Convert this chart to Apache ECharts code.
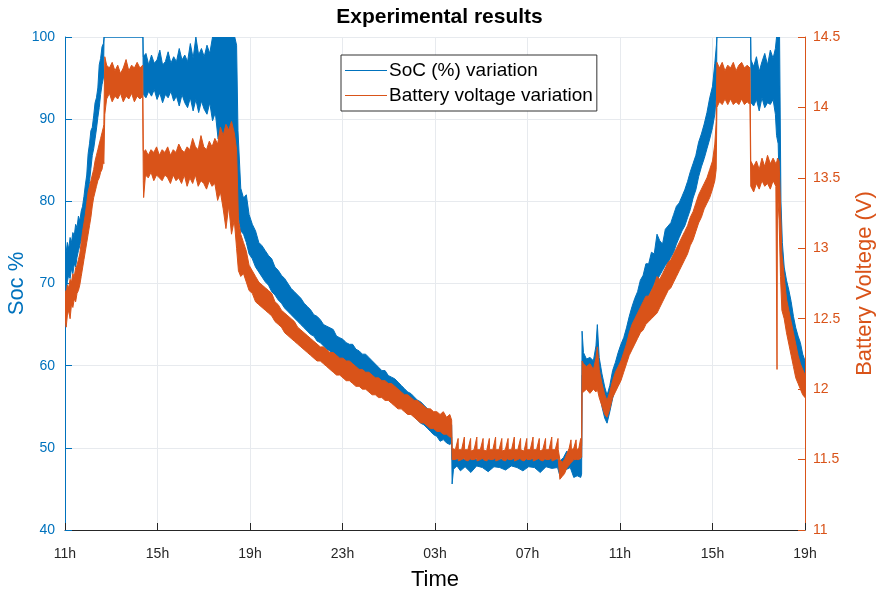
<!DOCTYPE html>
<html>
<head>
<meta charset="utf-8">
<title>Experimental results</title>
<script src="https://cdn.jsdelivr.net/npm/echarts@6/dist/echarts.min.js"></script>
<style>
  html, body { margin: 0; padding: 0; background: #fff; }
  #chart { width: 879px; height: 593px; }
</style>
</head>
<body>
<div id="chart"></div>
<script>
/* time axis: hours since 11h of day 1 */
var hourLabels = ['11h', '15h', '19h', '23h', '03h', '07h', '11h', '15h', '19h'];

/* SoC (%) band: time, lower and upper edge of the noisy trace */
var socTime = [
  0.00, 0.05, 0.10, 0.16, 0.22, 0.28, 0.34, 0.40, 0.46, 0.52, 0.58, 0.64, 0.70, 0.76, 0.82, 0.88,
  0.94, 1.00, 1.06, 1.12, 1.18, 1.24, 1.30, 1.36, 1.42, 1.48, 1.54, 1.60, 1.66, 1.69,
  3.37, 3.385, 3.50, 3.62, 3.74, 3.86, 3.98, 4.10, 4.22, 4.34, 4.46, 4.58, 4.70, 4.82, 4.94,
  5.06, 5.18, 5.30, 5.42, 5.54, 5.66, 5.78, 5.90, 6.02, 6.14, 6.26, 6.38, 6.50, 6.62, 6.74,
  6.86, 6.98, 7.10, 7.22, 7.34, 7.42, 7.48, 7.60, 7.72, 7.84, 7.96, 8.10, 8.24, 8.38, 8.52,
  8.66, 8.80, 8.94, 9.08, 9.22, 9.36, 9.50, 9.64, 9.78, 9.92, 10.06, 10.20, 10.34, 10.48,
  10.62, 10.76, 10.90, 11.04, 11.18, 11.32, 11.46, 11.60, 11.74, 11.88, 12.02, 12.16, 12.30,
  12.44, 12.58, 12.72, 12.86, 13.00, 13.14, 13.28, 13.42, 13.56, 13.70, 13.84, 13.98, 14.12,
  14.26, 14.40, 14.54, 14.68, 14.82, 14.96, 15.10, 15.24, 15.38, 15.52, 15.66, 15.80, 15.94,
  16.08, 16.22, 16.36, 16.50, 16.64, 16.72, 16.74, 16.80, 16.95, 17.10, 17.30, 17.55, 17.80,
  18.05, 18.30, 18.55, 18.80, 19.05, 19.30, 19.55, 19.80, 20.05, 20.30, 20.55, 20.80, 21.05,
  21.30, 21.40, 21.55, 21.70, 21.85, 22.00, 22.15, 22.30, 22.34, 22.36, 22.42, 22.55, 22.70,
  22.85, 22.96, 23.02, 23.10, 23.22, 23.34, 23.44, 23.56, 23.68, 23.80, 23.92, 24.04, 24.16,
  24.28, 24.40, 24.52, 24.64, 24.76, 24.88, 25.00, 25.12, 25.24, 25.36, 25.48, 25.60, 25.72,
  25.84, 25.96, 26.08, 26.20, 26.32, 26.44, 26.56, 26.68, 26.80, 26.92, 27.04, 27.16, 27.28,
  27.40, 27.52, 27.64, 27.76, 27.88, 28.00, 28.10, 28.17, 28.19, 29.65, 29.665, 29.78, 29.90,
  30.02, 30.14, 30.26, 30.38, 30.50, 30.62, 30.72, 30.77, 30.84, 30.90, 30.96, 31.02, 31.10,
  31.20, 31.30, 31.40, 31.50, 31.60, 31.70, 31.80, 31.90, 32.00
];
var socLow = [
  70.5, 68.8, 70.2, 71.0, 70.6, 71.8, 71.2, 72.4, 72.0, 73.2, 74.0, 74.6, 75.4, 76.0, 76.2, 77.8,
  79.0, 80.6, 82.4, 84.0, 85.6, 86.4, 87.6, 88.8, 90.2, 91.4, 93.0, 94.2, 95.0, 100,
  100, 93.0, 92.6, 93.4, 92.8, 93.6, 92.4, 93.2, 92.0, 93.0, 92.6, 93.4, 92.2, 92.8, 91.6,
  93.0, 92.0, 91.4, 92.6, 91.0, 92.4, 90.8, 92.2, 91.2, 90.6, 92.0, 89.8, 90.8, 87.6, 88.6,
  86.8, 88.4, 85.6, 86.8, 84.6, 82.0, 78.6, 76.4, 76.0, 75.0, 73.6, 73.0, 72.0, 71.4, 70.8,
  70.2, 69.8, 69.0, 68.6, 68.0, 67.6, 67.0, 66.6, 66.2, 65.8, 65.4, 65.0, 64.6, 64.2,
  63.8, 63.6, 63.0, 62.8, 62.4, 62.0, 61.8, 61.4, 61.0, 60.8, 60.4, 60.2, 59.8,
  59.6, 59.4, 59.0, 58.8, 58.6, 58.4, 58.0, 57.6, 57.4, 57.0, 56.8, 56.6, 56.2,
  55.8, 55.4, 55.0, 54.8, 54.4, 54.2, 53.8, 53.4, 53.0, 52.8, 52.4, 52.0, 51.6,
  51.4, 50.8, 51.0, 50.6, 50.4, 50.6, 45.6, 47.4, 47.8, 47.2, 47.7, 47.0, 47.8,
  47.6, 47.1, 47.7, 47.6, 47.3, 47.8, 47.6, 47.2, 47.7, 47.6, 47.0, 47.7, 47.5,
  47.6, 46.6, 47.2, 47.4, 47.6, 46.4, 46.6, 46.4, 46.8, 58.8, 58.6, 59.0, 58.4,
  59.2, 58.0, 58.6, 57.0, 55.0, 53.6, 53.0, 54.4, 56.0, 57.2, 58.0, 59.0, 60.2,
  61.2, 62.6, 63.8, 64.6, 65.8, 66.4, 67.4, 67.8, 68.6, 69.2, 70.0, 70.4, 71.0,
  71.6, 72.2, 72.6, 73.2, 73.8, 74.8, 75.6, 76.4, 77.0, 78.0, 79.0, 80.4, 81.4,
  83.0, 84.2, 85.2, 86.4, 87.6, 89.0, 90.6, 93.0, 100, 100, 92.0, 91.6, 92.4,
  91.0, 92.6, 91.4, 92.0, 91.8, 92.4, 90.6, 88.0, 87.0, 80.0, 73.0, 69.0, 67.4,
  66.0, 65.0, 63.0, 62.0, 60.6, 60.2, 59.4, 58.2, 58.0
];
var socHigh = [
  74.5, 73.8, 75.0, 74.2, 75.6, 75.0, 76.2, 75.8, 77.2, 76.8, 78.2, 77.6, 78.8, 79.4, 80.6, 82.0,
  83.2, 85.8, 87.0, 88.6, 89.0, 90.4, 92.0, 92.6, 93.8, 96.6, 97.4, 98.8, 99.2, 100,
  100, 97.6, 98.0, 96.6, 97.8, 96.8, 97.2, 98.4, 96.6, 97.0, 98.2, 96.8, 97.6, 97.0, 98.6,
  97.2, 97.8, 97.0, 99.2, 97.4, 100, 97.8, 98.6, 97.6, 99.0, 98.0, 100, 100, 100, 100,
  100, 100, 100, 100, 100, 99.0, 88.6, 81.6, 80.4, 80.8, 78.4, 77.2, 76.4, 75.0, 74.6,
  74.0, 73.4, 73.0, 72.0, 71.6, 71.0, 70.6, 70.0, 69.4, 69.0, 68.6, 68.2, 67.6, 67.2,
  66.8, 66.2, 66.0, 65.6, 65.0, 64.8, 64.6, 64.4, 63.6, 63.4, 63.2, 62.8, 62.6,
  62.6, 62.0, 61.8, 61.4, 61.4, 61.0, 60.6, 60.2, 59.8, 59.4, 59.4, 58.8, 58.6,
  58.4, 58.0, 57.6, 57.2, 56.8, 56.6, 56.2, 55.8, 55.6, 55.2, 54.8, 54.6, 54.0,
  53.8, 53.6, 53.2, 53.6, 53.0, 52.8, 48.6, 48.8, 48.6, 48.7, 48.6, 48.8, 48.6,
  48.7, 48.6, 48.9, 48.6, 48.7, 48.6, 48.8, 48.6, 48.7, 48.6, 48.8, 48.6, 48.7,
  48.6, 48.4, 48.8, 49.6, 49.0, 48.8, 48.6, 48.6, 48.8, 64.2, 61.6, 60.8, 61.0,
  60.6, 62.4, 65.0, 61.0, 59.0, 57.4, 56.4, 57.6, 59.4, 60.4, 61.6, 62.6, 63.4,
  64.6, 66.0, 67.2, 68.2, 69.0, 70.4, 71.0, 72.4, 72.4, 73.8, 73.6, 76.0, 75.2,
  74.8, 76.6, 77.0, 77.4, 78.4, 79.4, 79.8, 80.6, 81.4, 82.4, 83.6, 84.6, 85.6,
  87.2, 88.2, 89.4, 90.8, 92.6, 94.0, 96.8, 99.0, 100, 100, 97.2, 96.4, 97.6,
  95.8, 97.0, 98.0, 96.6, 98.4, 97.4, 98.6, 100, 100, 100, 80.0, 75.0, 72.0,
  70.4, 69.2, 67.8, 66.0, 64.6, 63.6, 62.8, 61.4, 60.6
];

/* Battery voltage (V) band: time, lower and upper edge */
var voltTime = [
  0.00, 0.05, 0.10, 0.16, 0.22, 0.28, 0.34, 0.40, 0.46, 0.52, 0.58, 0.64, 0.70, 0.76, 0.82, 0.88,
  0.94, 1.00, 1.06, 1.12, 1.18, 1.24, 1.30, 1.36, 1.42, 1.48, 1.54, 1.60, 1.66, 1.68, 1.72, 1.80,
  1.92, 2.04, 2.16, 2.28, 2.40, 2.52, 2.64, 2.76, 2.88, 3.00, 3.12, 3.24, 3.36, 3.385, 3.40,
  3.48, 3.60, 3.72, 3.84, 3.96, 4.08, 4.20, 4.32, 4.44, 4.56, 4.68, 4.80, 4.92, 5.04, 5.16,
  5.28, 5.40, 5.52, 5.64, 5.76, 5.88, 6.00, 6.12, 6.24, 6.36, 6.48, 6.60, 6.72, 6.84, 6.96,
  7.08, 7.20, 7.32, 7.42, 7.50, 7.60, 7.72, 7.84, 7.96, 8.10, 8.24, 8.38, 8.52, 8.66, 8.80,
  8.94, 9.08, 9.22, 9.36, 9.50, 9.64, 9.78, 9.92, 10.06, 10.20, 10.34, 10.48, 10.62, 10.76,
  10.90, 11.04, 11.18, 11.32, 11.46, 11.60, 11.74, 11.88, 12.02, 12.16, 12.30, 12.44, 12.58,
  12.72, 12.86, 13.00, 13.14, 13.28, 13.42, 13.56, 13.70, 13.84, 13.98, 14.12, 14.26, 14.40,
  14.54, 14.68, 14.82, 14.96, 15.10, 15.24, 15.38, 15.52, 15.66, 15.80, 15.94, 16.08, 16.22,
  16.36, 16.50, 16.64, 16.72, 16.74,
  16.88, 17.00, 17.01, 17.15, 17.27, 17.28, 17.42, 17.54, 17.55, 17.69, 17.81, 17.82,
  17.96, 18.08, 18.09, 18.23, 18.35, 18.36, 18.50, 18.62, 18.63, 18.77, 18.89, 18.90,
  19.04, 19.16, 19.17, 19.31, 19.43, 19.44, 19.58, 19.70, 19.71, 19.85, 19.97, 19.98,
  20.12, 20.24, 20.25, 20.39, 20.51, 20.52, 20.66, 20.78, 20.79, 20.93, 21.05, 21.06,
  21.20, 21.32, 21.33,
  21.40, 21.50, 21.60, 21.70, 21.80, 21.88, 21.90, 22.00, 22.10, 22.12, 22.22, 22.30, 22.34,
  22.36, 22.42, 22.55, 22.70, 22.85, 22.96, 23.02, 23.10, 23.22, 23.34, 23.44, 23.56, 23.68,
  23.80, 23.92, 24.04, 24.16, 24.28, 24.40, 24.52, 24.64, 24.76, 24.88, 25.00, 25.12, 25.24,
  25.36, 25.48, 25.60, 25.72, 25.84, 25.96, 26.08, 26.20, 26.32, 26.44, 26.56, 26.68, 26.80,
  26.92, 27.04, 27.16, 27.28, 27.40, 27.52, 27.64, 27.76, 27.88, 28.00, 28.10, 28.16, 28.19,
  28.30, 28.42, 28.54, 28.66, 28.78, 28.90, 29.02, 29.14, 29.26, 29.38, 29.50, 29.62, 29.655,
  29.78, 29.90, 30.02, 30.14, 30.26, 30.38, 30.50, 30.62, 30.74, 30.79, 30.81, 30.88, 30.94,
  31.00, 31.10, 31.20, 31.30, 31.40, 31.50, 31.60, 31.70, 31.80, 31.90, 32.00
];
var voltLow = [
  12.50, 12.44, 12.52, 12.56, 12.50, 12.60, 12.58, 12.64, 12.62, 12.68, 12.70, 12.74, 12.80, 12.86, 12.92, 12.98,
  13.04, 13.10, 13.16, 13.22, 13.30, 13.36, 13.40, 13.44, 13.48, 13.50, 13.54, 13.56, 13.62, 13.60, 13.95, 14.06,
  14.10, 14.04, 14.08, 14.06, 14.10, 14.04, 14.08, 14.06, 14.10, 14.04, 14.08, 14.06, 14.08, 13.48, 13.36,
  13.52, 13.50, 13.54, 13.48, 13.52, 13.50, 13.48, 13.52, 13.50, 13.46, 13.52, 13.48, 13.50, 13.46, 13.52,
  13.44, 13.50, 13.46, 13.52, 13.44, 13.48, 13.46, 13.42, 13.48, 13.44, 13.46, 13.34, 13.40, 13.28, 13.14,
  13.30, 13.10, 13.20, 13.00, 12.84, 12.80, 12.82, 12.76, 12.70, 12.68, 12.62, 12.60, 12.58, 12.56, 12.54,
  12.52, 12.48, 12.46, 12.44, 12.40, 12.38, 12.36, 12.34, 12.32, 12.30, 12.28, 12.26, 12.24, 12.22,
  12.20, 12.20, 12.18, 12.16, 12.14, 12.12, 12.10, 12.10, 12.08, 12.06, 12.06, 12.04, 12.02,
  12.02, 12.00, 12.00, 11.98, 11.96, 11.96, 11.94, 11.94, 11.92, 11.92, 11.90, 11.88, 11.86,
  11.86, 11.84, 11.82, 11.82, 11.80, 11.78, 11.76, 11.76, 11.74, 11.72, 11.72, 11.70, 11.70,
  11.68, 11.68, 11.66, 11.66, 11.50,
  11.50, 11.51, 11.49, 11.50, 11.51, 11.50, 11.49, 11.51, 11.50, 11.50, 11.51, 11.49,
  11.50, 11.51, 11.50, 11.49, 11.51, 11.50, 11.50, 11.51, 11.49, 11.50, 11.51, 11.50,
  11.49, 11.51, 11.50, 11.50, 11.51, 11.49, 11.50, 11.51, 11.50, 11.49, 11.51, 11.50,
  11.50, 11.51, 11.49, 11.50, 11.51, 11.50, 11.49, 11.51, 11.50, 11.50, 11.51, 11.49,
  11.50, 11.51, 11.50,
  11.36, 11.38, 11.40, 11.44, 11.46, 11.48, 11.48, 11.50, 11.50, 11.50, 11.50, 11.51, 11.52,
  11.98, 11.98, 12.00, 11.97, 12.00, 11.98, 12.00, 11.94, 11.88, 11.82, 11.80, 11.86, 11.94,
  11.98, 12.02, 12.06, 12.12, 12.18, 12.24, 12.28, 12.32, 12.36, 12.40, 12.42, 12.46, 12.48,
  12.50, 12.52, 12.54, 12.58, 12.62, 12.66, 12.70, 12.72, 12.76, 12.80, 12.84, 12.88, 12.92,
  12.96, 13.02, 13.06, 13.12, 13.18, 13.22, 13.28, 13.32, 13.36, 13.42, 13.48, 13.56, 14.00,
  14.04, 14.02, 14.06, 14.02, 14.06, 14.02, 14.04, 14.02, 14.06, 14.02, 14.04, 14.02, 13.44,
  13.40, 13.46, 13.42, 13.48, 13.44, 13.46, 13.42, 13.48, 13.44, 12.14, 13.40, 13.20, 12.80,
  12.56, 12.50, 12.40, 12.32, 12.24, 12.16, 12.08, 12.04, 12.00, 11.96, 11.94
];
var voltHigh = [
  12.70, 12.68, 12.74, 12.72, 12.78, 12.76, 12.82, 12.80, 12.86, 12.88, 12.92, 12.96, 13.04, 13.12, 13.18, 13.24,
  13.32, 13.40, 13.44, 13.48, 13.52, 13.56, 13.62, 13.66, 13.70, 13.74, 13.78, 13.82, 13.86, 13.88, 14.36, 14.30,
  14.28, 14.32, 14.26, 14.30, 14.24, 14.28, 14.34, 14.26, 14.30, 14.28, 14.32, 14.28, 14.30, 13.70, 13.68,
  13.70, 13.66, 13.70, 13.68, 13.72, 13.66, 13.70, 13.68, 13.72, 13.66, 13.70, 13.68, 13.74, 13.70, 13.68,
  13.72, 13.70, 13.78, 13.72, 13.70, 13.80, 13.72, 13.70, 13.76, 13.72, 13.78, 13.74, 13.86, 13.80, 13.88,
  13.84, 13.90, 13.82, 13.70, 13.20, 13.10, 13.04, 12.98, 12.88, 12.84, 12.80, 12.76, 12.74, 12.72, 12.70,
  12.68, 12.62, 12.60, 12.56, 12.54, 12.52, 12.50, 12.48, 12.44, 12.42, 12.40, 12.38, 12.36, 12.34,
  12.32, 12.30, 12.30, 12.28, 12.26, 12.26, 12.24, 12.22, 12.22, 12.20, 12.20, 12.18, 12.16,
  12.14, 12.14, 12.12, 12.12, 12.10, 12.08, 12.08, 12.06, 12.06, 12.04, 12.04, 12.02, 12.00,
  11.98, 11.96, 11.96, 11.94, 11.92, 11.92, 11.90, 11.88, 11.86, 11.86, 11.84, 11.84, 11.82,
  11.84, 11.80, 11.82, 11.78, 11.58,
  11.57, 11.65, 11.57, 11.57, 11.66, 11.57, 11.57, 11.65, 11.56, 11.57, 11.66, 11.57,
  11.57, 11.65, 11.57, 11.56, 11.65, 11.57, 11.57, 11.66, 11.57, 11.57, 11.65, 11.56,
  11.57, 11.65, 11.57, 11.57, 11.66, 11.57, 11.57, 11.65, 11.57, 11.56, 11.65, 11.57,
  11.57, 11.66, 11.57, 11.57, 11.65, 11.56, 11.57, 11.65, 11.57, 11.57, 11.66, 11.57,
  11.57, 11.65, 11.57,
  11.50, 11.48, 11.50, 11.54, 11.58, 11.64, 11.57, 11.58, 11.64, 11.57, 11.58, 11.65, 11.60,
  12.20, 12.18, 12.16, 12.18, 12.14, 12.22, 12.30, 12.14, 12.04, 11.96, 11.92, 11.98, 12.06,
  12.12, 12.16, 12.20, 12.26, 12.32, 12.40, 12.46, 12.50, 12.54, 12.58, 12.62, 12.66, 12.66,
  12.70, 12.74, 12.80, 12.78, 12.82, 12.86, 12.90, 12.92, 12.96, 13.00, 13.04, 13.08, 13.12,
  13.16, 13.22, 13.26, 13.32, 13.38, 13.42, 13.46, 13.50, 13.56, 13.62, 13.74, 13.90, 14.32,
  14.28, 14.32, 14.26, 14.30, 14.28, 14.32, 14.26, 14.30, 14.32, 14.28, 14.30, 14.28, 13.62,
  13.58, 13.62, 13.56, 13.64, 13.58, 13.66, 13.60, 13.64, 13.60, 13.62, 13.64, 13.62, 13.30,
  12.96, 12.80, 12.64, 12.56, 12.48, 12.40, 12.32, 12.24, 12.18, 12.14, 12.10
];

var socColor = '#0072BD';
var voltColor = '#D95319';
var axisText = '#262626';
var gridColor = '#e7eaee';
var fontFamily = 'Liberation Sans, Arial, sans-serif';

function toRows(t, lo, hi) {
  var rows = [];
  for (var i = 0; i < t.length; i++) rows.push([t[i], lo[i], hi[i]]);
  return rows;
}

/* draws the whole lower/upper envelope as one filled polygon */
function bandRenderer(color) {
  return function (params, api) {
    if (params.dataIndexInside !== 0) return null;
    var n = params.dataInsideLength;
    var upper = [], lower = [];
    for (var i = 0; i < n; i++) {
      upper.push(api.coord([api.value(0, i), api.value(2, i)]));
      lower.push(api.coord([api.value(0, i), api.value(1, i)]));
    }
    return {
      type: 'polygon',
      shape: { points: upper.concat(lower.reverse()) },
      style: { fill: color, stroke: color, lineWidth: 1 }
    };
  };
}

var chart = echarts.init(document.getElementById('chart'));

var option = {
  animation: false,
  backgroundColor: '#fff',
  textStyle: { fontFamily: fontFamily },
  title: {
    text: 'Experimental results',
    left: 'center',
    top: 7,
    padding: [0, 9, 0, 0],
    textStyle: { fontSize: 21, fontWeight: 'bold', color: '#000', fontFamily: fontFamily }
  },
  legend: {
    orient: 'vertical',
    left: 341,
    top: 55,
    padding: [6, 4, 6, 4],
    itemGap: 6,
    itemWidth: 42,
    itemHeight: 1,
    icon: 'rect',
    backgroundColor: '#fff',
    borderColor: '#333',
    borderWidth: 1,
    borderRadius: 0,
    textStyle: { fontSize: 19, lineHeight: 19, color: '#000', fontFamily: fontFamily, padding: [0, 0, 0, -3] },
    data: ['SoC (%) variation', 'Battery voltage variation']
  },
  grid: { left: 65, right: 74, top: 37, bottom: 63, outerBoundsMode: 'none' },
  xAxis: {
    type: 'value',
    min: 0,
    max: 32,
    interval: 4,
    name: 'Time',
    nameLocation: 'middle',
    nameGap: 39,
    nameMoveOverlap: false,
    nameTextStyle: { fontSize: 22, color: '#000', fontFamily: fontFamily },
    axisLine: { show: true, onZero: false, lineStyle: { color: axisText, width: 1 } },
    axisTick: { show: true, inside: true, length: 7, lineStyle: { color: axisText } },
    axisLabel: {
      margin: 17, fontSize: 14, color: axisText, fontFamily: fontFamily,
      formatter: function (v) { return hourLabels[Math.round(v / 4)]; }
    },
    splitLine: { show: true, lineStyle: { color: gridColor, width: 1 } }
  },
  yAxis: [
    {
      type: 'value',
      position: 'left',
      min: 40,
      max: 100,
      interval: 10,
      name: 'Soc %',
      nameLocation: 'middle',
      nameGap: 37,
      nameMoveOverlap: false,
      nameTextStyle: { fontSize: 22, color: socColor, fontFamily: fontFamily },
      axisLine: { show: true, lineStyle: { color: socColor, width: 1 } },
      axisTick: { show: true, inside: true, length: 7, lineStyle: { color: socColor } },
      axisLabel: { margin: 10, fontSize: 14, color: socColor, fontFamily: fontFamily },
      splitLine: { show: true, lineStyle: { color: gridColor, width: 1 } }
    },
    {
      type: 'value',
      position: 'right',
      min: 11,
      max: 14.5,
      interval: 0.5,
      name: 'Battery Voltege (V)',
      nameLocation: 'middle',
      nameGap: 49,
      nameMoveOverlap: false,
      nameTextStyle: { fontSize: 22, color: voltColor, fontFamily: fontFamily },
      axisLine: { show: true, lineStyle: { color: voltColor, width: 1 } },
      axisTick: { show: true, inside: true, length: 7, lineStyle: { color: voltColor } },
      axisLabel: { margin: 8, fontSize: 14, color: voltColor, fontFamily: fontFamily },
      splitLine: { show: false }
    }
  ],
  series: [
    {
      name: 'SoC (%) variation',
      type: 'custom',
      xAxisIndex: 0,
      yAxisIndex: 0,
      clip: true,
      itemStyle: { color: socColor },
      encode: { x: 0, y: [1, 2] },
      renderItem: bandRenderer(socColor),
      data: toRows(socTime, socLow, socHigh),
      z: 2
    },
    {
      name: 'Battery voltage variation',
      type: 'custom',
      xAxisIndex: 0,
      yAxisIndex: 1,
      clip: true,
      itemStyle: { color: voltColor },
      encode: { x: 0, y: [1, 2] },
      renderItem: bandRenderer(voltColor),
      data: toRows(voltTime, voltLow, voltHigh),
      z: 3
    }
  ]
};

chart.setOption(option);
</script>
</body>
</html>
